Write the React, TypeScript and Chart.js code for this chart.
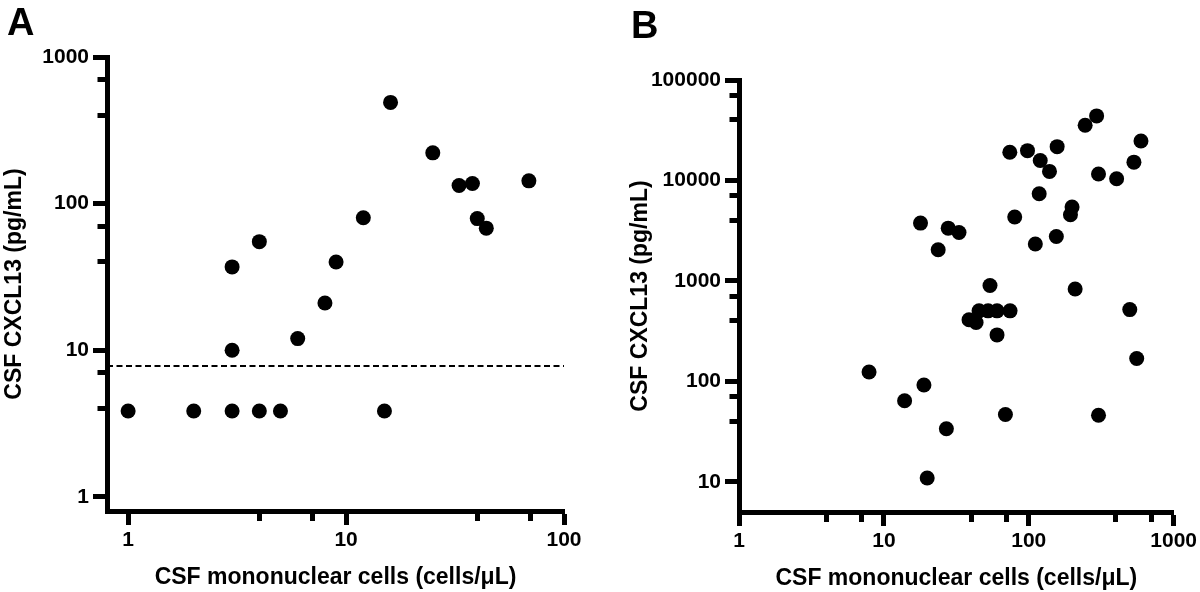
import React, { useEffect, useRef } from 'react';
import { Chart, registerables } from 'chart.js';

Chart.register(...registerables);

const FONT = '"Liberation Sans", Arial, Helvetica, sans-serif';

// Panel A
const aCells = [16, 25, 33, 38, 69, 40, 44, 12, 4, 3, 9, 8, 6, 3, 1, 2, 3, 4, 5, 15];
const aCxcl13 = [490, 222, 133, 137, 143, 79, 68, 80, 55, 37, 40, 21, 12, 10, 3.85, 3.85, 3.85, 3.85, 3.85, 3.85];
const aCutoff = 7.8;
const aCutoffCells = [0.8, 100];
const aXTicks = [1, 4, 7, 10, 40, 70, 100];
const aYTicks = [1, 4, 7, 10, 40, 70, 100, 400, 700, 1000];

// Panel B
const bCells = [
  294, 245, 595, 157, 74, 98, 120, 139, 532, 303, 404, 118, 199, 194, 80, 155, 111,
  17.9, 27.8, 33, 23.7, 54, 209, 38.7, 43.3, 45.4, 52.4, 60.4, 74.3, 60.4, 498, 556,
  7.9, 18.9, 13.9, 69, 303, 27, 19.9,
];
const bCxcl13 = [
  43900, 35400, 24700, 21700, 19100, 19800, 15800, 12300, 15200, 11600, 10400, 7360, 5430, 4550, 4320, 2770, 2330,
  3760, 3350, 3030, 2040, 900, 830, 410, 385, 503, 503, 503, 503, 290, 518, 169,
  124, 92, 64, 46.7, 46, 33.7, 10.9,
];
const bXTicks = [1, 4, 7, 10, 40, 70, 100, 400, 700, 1000];
const bYTicks = [10, 40, 70, 100, 400, 700, 1000, 4000, 7000, 10000, 40000, 70000, 100000];

const X_TITLE = 'CSF mononuclear cells (cells/μL)';
const Y_TITLE = 'CSF CXCL13 (pg/mL)';

const isMajor = (v: number) => {
  const l = Math.log10(v);
  return Math.abs(l - Math.round(l)) < 1e-9;
};

function logAxis(cfg: {
  position: 'left' | 'bottom';
  min: number;
  max: number;
  ticks: number[];
  title: string;
  titlePadding: any;
  fitSize: number;
}) {
  const horizontal = cfg.position === 'bottom';
  return {
    type: 'logarithmic',
    position: cfg.position,
    min: cfg.min,
    max: cfg.max,
    afterBuildTicks: (s: any) => {
      s.ticks = cfg.ticks.map((v) => ({ value: v }));
    },
    afterFit: (s: any) => {
      if (horizontal) s.height = cfg.fitSize;
      else s.width = cfg.fitSize;
    },
    ticks: {
      autoSkip: false,
      maxRotation: 0,
      minRotation: 0,
      padding: horizontal ? 3 : 4,
      color: '#000',
      font: { family: FONT, size: 21, weight: 'bold' },
      callback: (v: any) => (isMajor(Number(v)) ? String(v) : ''),
    },
    grid: {
      drawOnChartArea: false,
      drawTicks: true,
      tickLength: 14,
      tickWidth: 5,
      tickColor: '#000',
      tickBorderDash: (ctx: any) => {
        const v = ctx.tick ? ctx.tick.value : 1;
        if (isMajor(v)) return [];
        return horizontal ? [7, 100] : [0, 4.5, 8, 100];
      },
    },
    border: { display: true, width: 5, color: '#000' },
    title: {
      display: true,
      text: cfg.title,
      color: '#000',
      font: { family: FONT, size: 23, weight: 'bold' },
      padding: cfg.titlePadding,
    },
  };
}

function PanelChart({ left, build }: { left: number; build: () => any }) {
  const ref = useRef<HTMLCanvasElement | null>(null);
  useEffect(() => {
    if (!ref.current) return;
    const chart = new Chart(ref.current, build());
    return () => chart.destroy();
  }, []);
  return (
    <canvas
      ref={ref}
      width={600}
      height={592}
      style={{ position: 'absolute', left, top: 0, width: 600, height: 592 }}
    />
  );
}

const buildA = () => ({
  type: 'scatter',
  data: {
    datasets: [
      {
        type: 'line',
        data: aCutoffCells.map((x) => ({ x, y: aCutoff })),
        borderColor: '#000',
        borderWidth: 2,
        borderDash: [6, 3.5],
        pointRadius: 0,
        fill: false,
        order: 2,
      },
      {
        data: aCells.map((x, i) => ({ x, y: aCxcl13[i] })),
        backgroundColor: '#000',
        borderWidth: 0,
        pointRadius: 7.5,
        pointHoverRadius: 7.5,
        order: 1,
      },
    ],
  },
  options: {
    responsive: false,
    devicePixelRatio: 1,
    animation: false,
    events: [],
    layout: { padding: { top: 57, right: 36, left: 0, bottom: 0 } },
    plugins: { legend: { display: false }, tooltip: { enabled: false } },
    scales: {
      x: logAxis({
        position: 'bottom', min: 0.8, max: 100, ticks: aXTicks, title: X_TITLE,
        titlePadding: { top: 0, bottom: 1 }, fitSize: 81,
      }),
      y: logAxis({
        position: 'left', min: 0.8, max: 1000, ticks: aYTicks, title: Y_TITLE,
        titlePadding: { top: 1, bottom: 0 }, fitSize: 107,
      }),
    },
  },
});

const buildB = () => ({
  type: 'scatter',
  data: {
    datasets: [
      {
        data: bCells.map((x, i) => ({ x, y: bCxcl13[i] })),
        backgroundColor: '#000',
        borderWidth: 0,
        pointRadius: 7.5,
        pointHoverRadius: 7.5,
      },
    ],
  },
  options: {
    responsive: false,
    devicePixelRatio: 1,
    animation: false,
    events: [],
    layout: { padding: { top: 80, right: 26, left: 0, bottom: 0 } },
    plugins: { legend: { display: false }, tooltip: { enabled: false } },
    scales: {
      x: logAxis({
        position: 'bottom', min: 1, max: 1000, ticks: bXTicks, title: X_TITLE,
        titlePadding: { top: 0, bottom: 0 }, fitSize: 80,
      }),
      y: logAxis({
        position: 'left', min: 5, max: 100000, ticks: bYTicks, title: Y_TITLE,
        titlePadding: { top: 27, bottom: 0 }, fitSize: 139,
      }),
    },
  },
});

const letterStyle: React.CSSProperties = {
  position: 'absolute',
  fontFamily: FONT,
  fontWeight: 'bold',
  fontSize: 38,
  lineHeight: '38px',
  color: '#000',
};

export default function App() {
  return (
    <div
      style={{
        position: 'fixed',
        left: 0,
        top: 0,
        width: 1200,
        height: 592,
        background: '#fff',
        overflow: 'hidden',
      }}
    >
      <PanelChart left={0} build={buildA} />
      <PanelChart left={600} build={buildB} />
      <div style={{ ...letterStyle, left: 7, top: 3 }}>A</div>
      <div style={{ ...letterStyle, left: 631, top: 6 }}>B</div>
    </div>
  );
}
